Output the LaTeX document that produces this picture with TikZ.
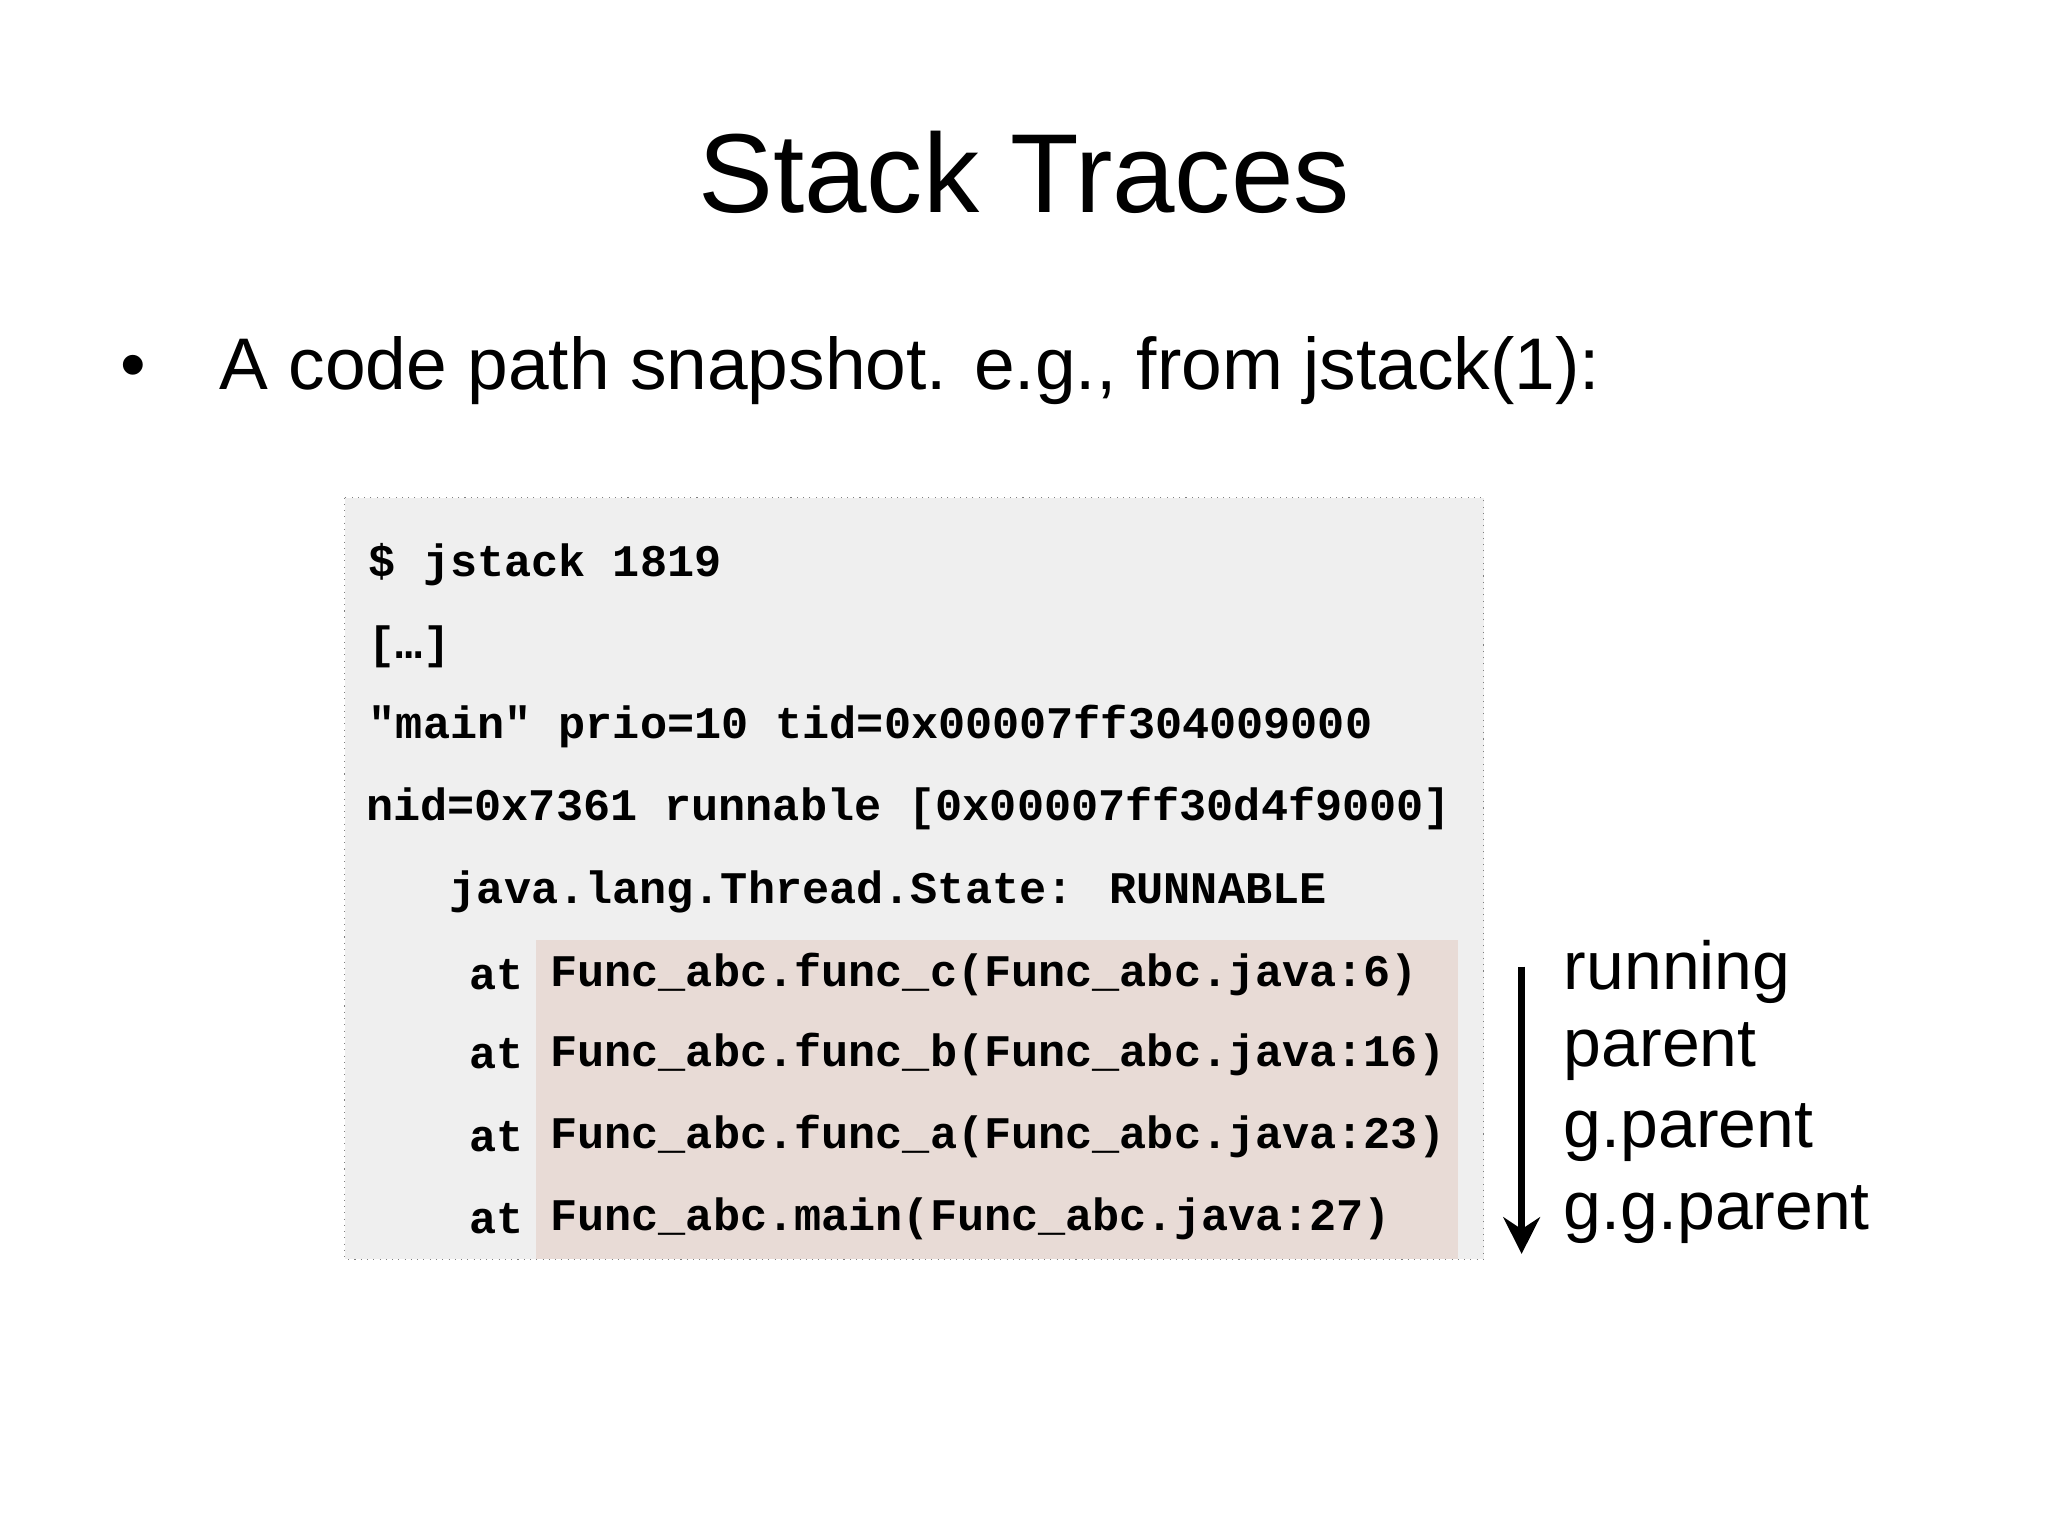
\documentclass[tikz,border=0pt]{standalone}
\usepackage{fontspec}
\usetikzlibrary{arrows.meta}
\setmainfont{Liberation Sans}
\newfontfamily\codefont{Liberation Mono}
\definecolor{boxbg}{RGB}{239,239,239}
\definecolor{pinkbg}{RGB}{232,219,214}
\begin{document}
\begin{tikzpicture}[x=0.5pt,y=-0.5pt,
  code/.style={anchor=west,inner sep=0pt,font=\codefont\bfseries\fontsize{17.3}{20}\selectfont},
  lab/.style={anchor=west,inner sep=0pt,font=\fontsize{26}{30}\selectfont}]
\useasboundingbox (0,0) rectangle (1568,1176);
\node[font=\fontsize{43}{50}\selectfont] (title) at (784,132) {Stack Traces};
\node[anchor=west,inner sep=0pt,font=\fontsize{28}{34}\selectfont] (bul) at (92,284) {\textbullet\hspace{28pt}A code path snapshot. e.g., from jstack(1):};
\draw[gray,dotted,fill=boxbg] (264,381) rectangle (1136,964);
\fill[pinkbg] (410,720) rectangle (1116,964);
\node[code] (l1) at (282,432) {\$ jstack 1819};
\node[code] (l2) at (282,495) {[…]};
\node[code] (l3) at (282,556) {"main" prio=10 tid=0x00007ff304009000};
\node[code] (l4) at (280,619) {nid=0x7361 runnable [0x00007ff30d4f9000]};
\node[code] (l5) at (344,683) {java.lang.Thread.State: RUNNABLE};
\node[code] (a1) at (359,746) {at};
\node[code] (a2) at (359,807) {at};
\node[code] (a3) at (359,870) {at};
\node[code] (a4) at (359,933) {at};
\node[code] (f1) at (421,746) {Func\_abc.func\_c(Func\_abc.java:6)};
\node[code] (f2) at (421,807) {Func\_abc.func\_b(Func\_abc.java:16)};
\node[code] (f3) at (421,870) {Func\_abc.func\_a(Func\_abc.java:23)};
\node[code] (f4) at (421,933) {Func\_abc.main(Func\_abc.java:27)};
\coordinate (s) at (1165,740);
\coordinate (e) at (1165,960);
\draw[line width=2.5pt,-{Stealth[length=14pt,width=14pt]}] (s) -- (e);
\node[lab] (r1) at (1197,744) {running};
\node[lab] (r2) at (1197,805) {parent};
\node[lab] (r3) at (1197,867) {g.parent};
\node[lab] (r4) at (1197,930) {g.g.parent};
\end{tikzpicture}
\end{document}
